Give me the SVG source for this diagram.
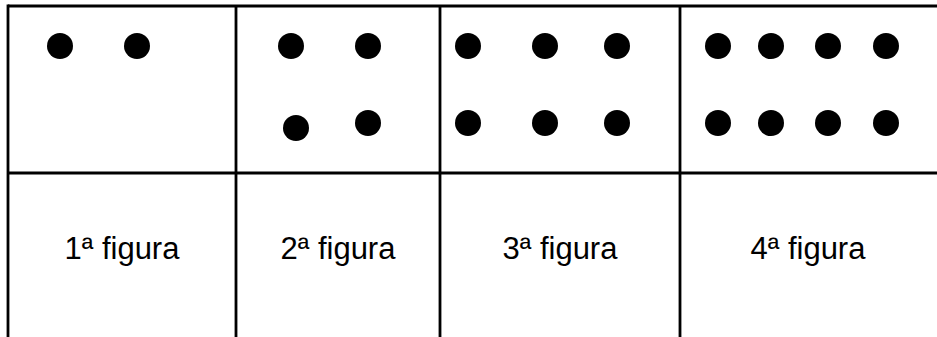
<svg xmlns="http://www.w3.org/2000/svg" width="937" height="337" viewBox="0 0 937 337">
<style>
.ln{stroke:#000;stroke-width:2.8;fill:none}
.dot{fill:#000}
.lbl{font-family:"Liberation Sans",Arial,sans-serif;font-size:31px;fill:#000;text-anchor:middle}
</style>
<rect width="937" height="337" fill="#fff"/>
<g id="grid">
<line class="ln" x1="8" y1="6" x2="937" y2="6"/>
<line class="ln" x1="8" y1="173" x2="937" y2="173"/>
<line class="ln" x1="8" y1="4.6" x2="8" y2="337"/>
<line class="ln" x1="236" y1="6" x2="236" y2="337"/>
<line class="ln" x1="440" y1="6" x2="440" y2="337"/>
<line class="ln" x1="680" y1="6" x2="680" y2="337"/>
</g>
<g id="fig1">
<circle class="dot" cx="60" cy="46" r="13"/>
<circle class="dot" cx="137" cy="46" r="13"/>
</g>
<g id="fig2">
<circle class="dot" cx="291" cy="46" r="13"/>
<circle class="dot" cx="368" cy="46" r="13"/>
<circle class="dot" cx="296" cy="128" r="13"/>
<circle class="dot" cx="368" cy="123" r="13"/>
</g>
<g id="fig3">
<circle class="dot" cx="468" cy="46" r="13"/>
<circle class="dot" cx="545" cy="46" r="13"/>
<circle class="dot" cx="617" cy="46" r="13"/>
<circle class="dot" cx="468" cy="123" r="13"/>
<circle class="dot" cx="545" cy="123" r="13"/>
<circle class="dot" cx="617" cy="123" r="13"/>
</g>
<g id="fig4">
<circle class="dot" cx="718" cy="46" r="13"/>
<circle class="dot" cx="771" cy="46" r="13"/>
<circle class="dot" cx="828" cy="46" r="13"/>
<circle class="dot" cx="886" cy="46" r="13"/>
<circle class="dot" cx="718" cy="123" r="13"/>
<circle class="dot" cx="771" cy="123" r="13"/>
<circle class="dot" cx="828" cy="123" r="13"/>
<circle class="dot" cx="886" cy="123" r="13"/>
</g>
<g id="labels">
<text class="lbl" x="122" y="259">1ª figura</text>
<text class="lbl" x="338" y="259">2ª figura</text>
<text class="lbl" x="560" y="259">3ª figura</text>
<text class="lbl" x="808" y="259">4ª figura</text>
</g>
</svg>
